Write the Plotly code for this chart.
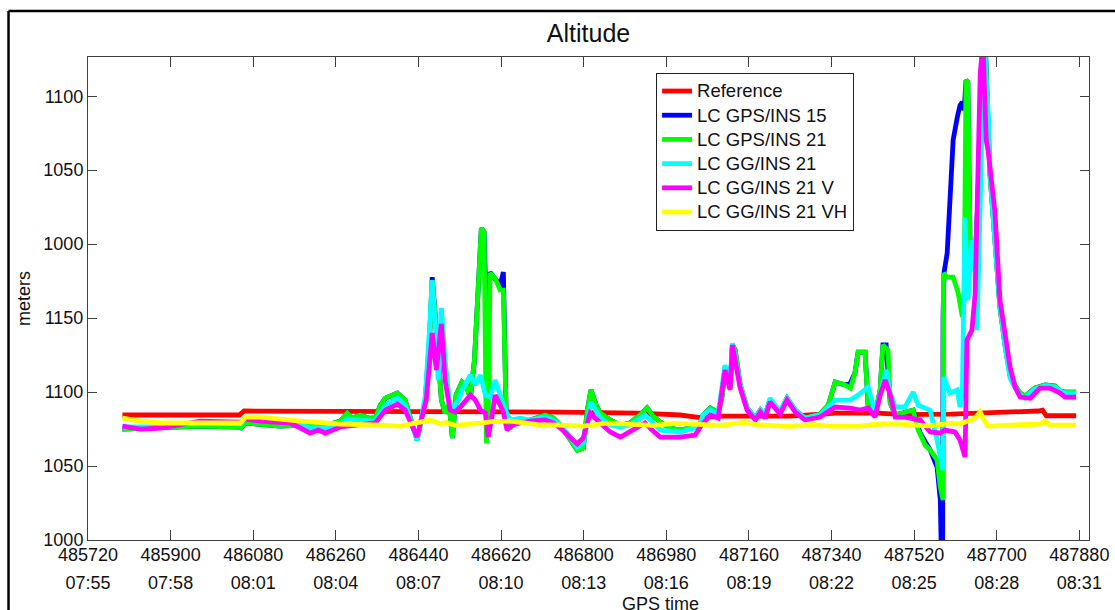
import plotly.graph_objects as go

# ---------------- data ----------------
gps_ticks = [485720, 485900, 486080, 486260, 486440, 486620, 486800,
             486980, 487160, 487340, 487520, 487700, 487880]
clock_ticks = ["07:55", "07:58", "08:01", "08:04", "08:07", "08:10", "08:13",
               "08:16", "08:19", "08:22", "08:25", "08:28", "08:31"]
y_tickvals = [1000, 1050, 1100, 1150, 1200, 1250, 1300]
y_ticktext = ["1000", "1050", "1100", "1150", "1000", "1050", "1100"]

ref_t = [485795, 486050, 486060, 486440, 486750, 486920, 487010, 487054, 487100,
         487250, 487350, 487440, 487500, 487600, 487700, 487790, 487800, 487808, 487873]
ref_v = [1084.5, 1084.5, 1087.2, 1087.2, 1086.5, 1085.8, 1084.5, 1082.8, 1083.8,
         1083.8, 1085.8, 1085.8, 1084.8, 1085.1, 1086.0, 1087.2, 1087.8, 1084.0, 1084.0]

gps15_t = [485795, 485878, 485965, 486048, 486054, 486063, 486095, 486139, 486183, 486248,
           486270, 486285, 486296, 486313, 486331, 486346, 486357, 486368, 486394, 486411,
           486427, 486437, 486446, 486455, 486464, 486470, 486479, 486490, 486498, 486507,
           486514, 486522, 486535, 486544, 486553, 486562, 486570, 486577, 486583, 486590,
           486596, 486607, 486618, 486625, 486631, 486640, 486651, 486684, 486716, 486734,
           486749, 486771, 486786, 486799, 486808, 486816, 486827, 486836, 486858, 486880,
           486901, 486923, 486938, 486951, 486967, 486988, 487010, 487032, 487054, 487060,
           487076, 487093, 487102, 487108, 487119, 487124, 487130, 487141, 487156, 487174,
           487185, 487195, 487206, 487228, 487243, 487261, 487282, 487315, 487333, 487348,
           487370, 487381, 487391, 487398, 487413, 487420, 487435, 487446, 487452, 487459,
           487468, 487479, 487500, 487518, 487529, 487533, 487555, 487570, 487577, 487582,
           487583, 487585, 487592, 487598, 487605, 487614, 487620, 487625, 487629, 487633,
           487637, 487642, 487653, 487659, 487668, 487675, 487681, 487685, 487696, 487707,
           487718, 487729, 487740, 487751, 487762, 487783, 487805, 487827, 487838, 487849, 487873]
gps15_v = [1075.0, 1075.7, 1077.0, 1076.4, 1075.7, 1079.1, 1078.4, 1077.0, 1077.7, 1078.4,
           1080.4, 1085.8, 1082.4, 1084.5, 1082.4, 1082.4, 1091.2, 1095.9, 1099.3, 1094.6,
           1077.7, 1067.6, 1081.1, 1094.6, 1135.1, 1177.7, 1141.9, 1094.6, 1085.8, 1091.2,
           1068.9, 1098.0, 1106.8, 1104.8, 1095.9, 1121.6, 1168.9, 1210.8, 1208.1, 1128.4,
           1181.1, 1177.1, 1172.0, 1181.1, 1085.8, 1075.7, 1079.7, 1081.1, 1084.5, 1082.4,
           1077.7, 1067.6, 1060.8, 1062.2, 1087.8, 1101.4, 1091.2, 1085.8, 1081.1, 1077.7,
           1079.1, 1084.5, 1089.2, 1083.8, 1079.7, 1075.7, 1074.3, 1075.7, 1078.4, 1084.5,
           1089.2, 1085.8, 1098.0, 1116.9, 1102.7, 1131.8, 1128.4, 1104.8, 1089.2, 1082.4,
           1087.8, 1083.8, 1094.6, 1086.5, 1095.9, 1087.8, 1082.4, 1085.1, 1091.2, 1106.8,
           1104.8, 1106.1, 1112.8, 1127.0, 1127.0, 1089.9, 1084.5, 1101.4, 1131.8, 1131.8,
           1092.6, 1084.5, 1086.5, 1087.8, 1076.4, 1072.3, 1060.8, 1049.3, 1027.0, 946.0,
           1150.7, 1180.4, 1193.9, 1236.5, 1270.3, 1285.8, 1293.9, 1296.0, 1290.6, 1310.8,
           1309.5, 1193.9, 1189.2, 1229.8, 1335.0, 1335.0, 1283.8, 1248.0, 1202.7, 1157.4,
           1131.8, 1111.5, 1104.1, 1099.3, 1097.3, 1102.7, 1104.8, 1104.1, 1100.7, 1100.0, 1100.0]

gps21_t = [485795, 485878, 485965, 486048, 486054, 486063, 486095, 486139, 486183, 486248,
           486270, 486285, 486296, 486313, 486331, 486346, 486357, 486368, 486394, 486411,
           486427, 486437, 486446, 486455, 486464, 486470, 486479, 486490, 486498, 486507,
           486514, 486522, 486535, 486544, 486553, 486562, 486570, 486577, 486583, 486588,
           486592, 486596, 486607, 486618, 486625, 486631, 486640, 486651, 486684, 486716,
           486734, 486749, 486771, 486786, 486799, 486808, 486816, 486827, 486836, 486858,
           486880, 486901, 486923, 486938, 486951, 486967, 486988, 487010, 487032, 487054,
           487060, 487076, 487093, 487102, 487108, 487119, 487124, 487130, 487141, 487156,
           487174, 487185, 487195, 487206, 487228, 487243, 487261, 487282, 487315, 487333,
           487348, 487370, 487381, 487391, 487398, 487413, 487420, 487435, 487446, 487452,
           487463, 487468, 487479, 487500, 487518, 487529, 487544, 487555, 487570, 487577,
           487583, 487584, 487592, 487605, 487616, 487625, 487629, 487633, 487637, 487642,
           487653, 487659, 487668, 487675, 487681, 487685, 487696, 487707, 487718, 487729,
           487740, 487751, 487762, 487783, 487805, 487827, 487838, 487849, 487873]
gps21_v = [1075.0, 1075.7, 1077.0, 1076.4, 1075.7, 1079.1, 1078.4, 1077.0, 1077.7, 1078.4,
           1080.4, 1085.8, 1082.4, 1084.5, 1082.4, 1082.4, 1091.2, 1095.9, 1099.3, 1094.6,
           1077.7, 1067.6, 1081.1, 1094.6, 1135.1, 1175.7, 1141.9, 1094.6, 1085.8, 1091.2,
           1068.9, 1098.0, 1106.8, 1104.8, 1095.9, 1121.6, 1168.9, 1210.8, 1208.1, 1065.5,
           1081.1, 1180.4, 1177.1, 1168.9, 1168.9, 1085.8, 1075.7, 1079.7, 1081.1, 1084.5,
           1082.4, 1077.7, 1067.6, 1060.8, 1062.2, 1087.8, 1101.4, 1091.2, 1085.8, 1081.1,
           1077.7, 1079.1, 1084.5, 1089.2, 1083.8, 1079.7, 1075.7, 1074.3, 1075.7, 1078.4,
           1084.5, 1089.2, 1085.8, 1098.0, 1116.9, 1102.7, 1131.8, 1128.4, 1104.8, 1089.2,
           1082.4, 1087.8, 1083.8, 1094.6, 1086.5, 1095.9, 1087.8, 1082.4, 1085.1, 1091.2,
           1106.8, 1104.8, 1102.7, 1112.8, 1127.0, 1127.0, 1089.9, 1084.5, 1101.4, 1131.8,
           1128.4, 1092.6, 1084.5, 1086.5, 1087.8, 1074.3, 1064.2, 1060.8, 1054.1, 1035.8,
           1027.0, 1180.4, 1177.7, 1177.7, 1166.9, 1150.7, 1162.2, 1310.8, 1309.5, 1193.9,
           1189.2, 1229.8, 1335.0, 1335.0, 1283.8, 1248.0, 1202.7, 1157.4, 1131.8, 1111.5,
           1104.1, 1099.3, 1097.3, 1102.7, 1104.8, 1104.1, 1100.7, 1100.0, 1100.0]

gg21_t = [485795, 485878, 485965, 486052, 486063, 486095, 486161, 486204, 486237, 486270,
          486285, 486313, 486346, 486368, 486394, 486411, 486427, 486437, 486446, 486455,
          486464, 486470, 486479, 486483, 486490, 486498, 486507, 486514, 486527, 486535,
          486553, 486564, 486575, 486586, 486596, 486607, 486618, 486629, 486640, 486662,
          486684, 486716, 486734, 486749, 486771, 486786, 486799, 486816, 486836, 486858,
          486880, 486901, 486934, 486949, 486967, 487010, 487054, 487060, 487076, 487093,
          487108, 487119, 487124, 487141, 487156, 487174, 487185, 487195, 487206, 487228,
          487243, 487261, 487282, 487315, 487348, 487381, 487398, 487420, 487435, 487446,
          487459, 487468, 487479, 487500, 487518, 487529, 487555, 487570, 487577, 487583,
          487585, 487598, 487614, 487620, 487625, 487631, 487637, 487646, 487653, 487657,
          487664, 487672, 487681, 487685, 487696, 487707, 487718, 487729, 487740, 487751,
          487762, 487783, 487805, 487827, 487838, 487849, 487873]
gg21_v = [1076.4, 1076.4, 1079.7, 1078.4, 1081.8, 1081.1, 1080.4, 1075.7, 1075.7, 1078.4,
          1081.8, 1081.1, 1080.4, 1091.2, 1095.9, 1091.2, 1077.7, 1067.6, 1081.1, 1098.0,
          1141.9, 1175.7, 1135.1, 1108.1, 1156.8, 1121.6, 1094.6, 1087.8, 1094.6, 1101.4,
          1111.5, 1104.8, 1111.5, 1098.0, 1096.6, 1108.1, 1098.0, 1087.8, 1081.1, 1082.4,
          1081.1, 1083.1, 1081.1, 1077.7, 1069.6, 1062.8, 1065.5, 1093.3, 1082.4, 1077.7,
          1076.4, 1077.7, 1084.5, 1079.7, 1074.3, 1073.0, 1077.0, 1084.5, 1087.8, 1085.1,
          1118.2, 1104.8, 1133.1, 1104.8, 1089.2, 1082.4, 1087.8, 1083.8, 1095.9, 1086.5,
          1095.9, 1087.8, 1082.4, 1084.5, 1094.6, 1094.6, 1098.0, 1103.4, 1086.5, 1098.0,
          1114.9, 1099.3, 1089.9, 1089.9, 1100.0, 1091.2, 1087.8, 1067.6, 1054.1, 1047.3,
          1110.1, 1099.3, 1101.4, 1089.9, 1099.3, 1218.2, 1162.2, 1202.7, 1180.4, 1141.9,
          1229.8, 1335.0, 1290.6, 1250.0, 1202.7, 1158.8, 1131.8, 1109.5, 1102.7, 1098.0,
          1095.9, 1102.0, 1104.1, 1103.4, 1100.7, 1099.3, 1099.3]

gg21v_t = [485795, 485834, 485878, 485965, 486052, 486063, 486095, 486161, 486183, 486204,
           486222, 486237, 486270, 486313, 486346, 486368, 486394, 486411, 486427, 486437,
           486446, 486457, 486470, 486479, 486490, 486498, 486509, 486520, 486535, 486553,
           486564, 486575, 486586, 486592, 486599, 486607, 486618, 486625, 486633, 486644,
           486662, 486684, 486716, 486734, 486749, 486771, 486786, 486799, 486814, 486836,
           486858, 486880, 486901, 486934, 486949, 486967, 487010, 487043, 487054, 487065,
           487076, 487093, 487108, 487119, 487124, 487141, 487156, 487174, 487185, 487195,
           487206, 487228, 487243, 487261, 487282, 487315, 487348, 487381, 487402, 487420,
           487435, 487446, 487457, 487468, 487479, 487500, 487518, 487533, 487555, 487577,
           487587, 487609, 487620, 487631, 487635, 487646, 487653, 487659, 487664, 487670,
           487677, 487681, 487696, 487707, 487718, 487729, 487740, 487751, 487773, 487794,
           487816, 487838, 487849, 487873]
gg21v_v = [1077.0, 1075.0, 1075.7, 1080.4, 1079.7, 1081.8, 1080.4, 1079.1, 1075.7, 1072.3,
           1074.3, 1072.3, 1076.4, 1077.7, 1079.1, 1087.8, 1091.9, 1087.8, 1075.7, 1069.6,
           1081.1, 1094.6, 1139.9, 1114.9, 1146.0, 1108.1, 1087.8, 1086.5, 1091.2, 1098.0,
           1094.6, 1087.8, 1085.8, 1069.6, 1081.1, 1098.0, 1091.2, 1086.5, 1074.3, 1077.7,
           1079.1, 1080.4, 1081.1, 1079.1, 1075.7, 1069.6, 1064.9, 1068.9, 1085.8, 1079.1,
           1073.0, 1069.6, 1073.0, 1079.1, 1074.3, 1069.6, 1069.6, 1070.9, 1076.4, 1081.1,
           1084.5, 1082.4, 1114.9, 1101.4, 1131.8, 1102.7, 1087.8, 1081.1, 1086.5, 1082.4,
           1093.3, 1085.1, 1094.6, 1086.5, 1081.1, 1083.1, 1089.9, 1089.2, 1087.8, 1089.2,
           1083.1, 1098.0, 1108.1, 1098.0, 1083.1, 1083.1, 1082.4, 1081.1, 1073.0, 1072.3,
           1074.3, 1073.0, 1067.6, 1056.1, 1135.1, 1141.9, 1166.9, 1270.3, 1315.5, 1335.0,
           1270.3, 1263.5, 1222.0, 1162.2, 1139.9, 1116.9, 1103.4, 1096.6, 1095.9, 1102.7,
           1102.7, 1099.3, 1096.6, 1096.6]

gg21vh_t = [485795, 485834, 485878, 486052, 486063, 486095, 486183, 486270, 486357, 486400,
            486466, 486488, 486500, 486520, 486575, 486600, 486640, 486700, 486749, 486800,
            486850, 486880, 486950, 487000, 487054, 487100, 487150, 487184, 487250, 487300,
            487337, 487400, 487450, 487489, 487550, 487600, 487620, 487653, 487664, 487670,
            487681, 487794, 487805, 487816, 487873]
gg21vh_v = [1082.4, 1080.4, 1079.1, 1079.1, 1083.1, 1083.1, 1080.4, 1078.4, 1077.7, 1077.0,
            1081.1, 1078.4, 1079.5, 1077.5, 1079.0, 1080.0, 1080.4, 1078.0, 1077.7, 1077.0,
            1079.0, 1078.4, 1077.5, 1078.8, 1078.4, 1077.5, 1079.5, 1077.7, 1076.8, 1078.2,
            1077.0, 1077.0, 1078.4, 1078.4, 1077.2, 1078.8, 1078.4, 1082.4, 1086.5, 1082.4,
            1077.0, 1078.4, 1080.4, 1077.7, 1077.7]

series = [
    ("Reference", ref_t, ref_v, "#FF0000"),
    ("LC GPS/INS 15", gps15_t, gps15_v, "#0000FF"),
    ("LC GPS/INS 21", gps21_t, gps21_v, "#00FF00"),
    ("LC GG/INS 21", gg21_t, gg21_v, "#00FFFF"),
    ("LC GG/INS 21 V", gg21v_t, gg21v_v, "#FF00FF"),
    ("LC GG/INS 21 VH", gg21vh_t, gg21vh_v, "#FFFF00"),
]

FONT = "Liberation Sans, Arial, sans-serif"
TXT = "#111111"
AX = "#404040"

fig = go.Figure()
for name, t, v, c in series:
    fig.add_trace(go.Scatter(x=t, y=v, mode="lines",
                             name="<span style='font-size:18.5px'>%s</span>" % name,
                             line=dict(color=c, width=4.8)))
# carrier for the clock-time tick row
fig.add_trace(go.Scatter(x=[gps_ticks[0]], y=[y_tickvals[0]], xaxis="x2", mode="lines",
                         showlegend=False, hoverinfo="skip", line=dict(width=0)))

fig.update_layout(
    width=1115, height=610,
    margin=dict(l=88, r=26, t=57, b=70, autoexpand=False),
    paper_bgcolor="white", plot_bgcolor="white",
    font=dict(family=FONT, size=18, color=TXT),
    title=dict(text="Altitude", x=0.5, xref="paper", y=1 - 33 / 610, yref="container",
               xanchor="center", yanchor="middle", font=dict(size=25, color=TXT)),
    showlegend=True,
    legend=dict(x=0.5675, y=0.967, xanchor="left", yanchor="top",
                bgcolor="white", bordercolor="#202020", borderwidth=1,
                font=dict(size=16.3, color=TXT), tracegroupgap=0),
    xaxis=dict(range=[485720, 487901], tickvals=gps_ticks,
               ticktext=[str(g) for g in gps_ticks], automargin=False,
               ticks="inside", ticklen=10, tickcolor=AX, mirror="ticks",
               showline=True, linecolor=AX, linewidth=1, showgrid=False, zeroline=False,
               ticklabelstandoff=-2, tickfont=dict(size=18, color=TXT)),
    xaxis2=dict(range=[485720, 487901], overlaying="x", anchor="y", side="bottom",
                tickvals=gps_ticks, ticktext=clock_ticks, ticks="", showline=False,
                showgrid=False, zeroline=False, ticklabelstandoff=30, automargin=False,
                tickfont=dict(size=18, color=TXT)),
    yaxis=dict(range=[1000, 1326.5], tickvals=y_tickvals, ticktext=y_ticktext,
               ticks="inside", ticklen=9, tickcolor=AX, mirror="ticks", automargin=False,
               showline=True, linecolor=AX, linewidth=1, showgrid=False, zeroline=False,
               tickfont=dict(size=18, color=TXT),
               title=dict(text="meters", standoff=8, font=dict(size=18, color=TXT))),
    annotations=[
        dict(text="GPS time", xref="paper", yref="paper", x=0.5724, y=-0.1325,
             xanchor="center", yanchor="middle", showarrow=False,
             font=dict(size=18, color=TXT)),
    ],
    shapes=[
        dict(type="line", xref="paper", yref="paper", x0=-0.0794, x1=1.1,
             y0=1.0952, y1=1.0952, line=dict(color="black", width=2.5)),
        dict(type="line", xref="paper", yref="paper", x0=-0.0794, x1=-0.0794,
             y0=1.0952, y1=-0.3, line=dict(color="black", width=2.5)),
    ],
)

fig.write_html("out.html")
